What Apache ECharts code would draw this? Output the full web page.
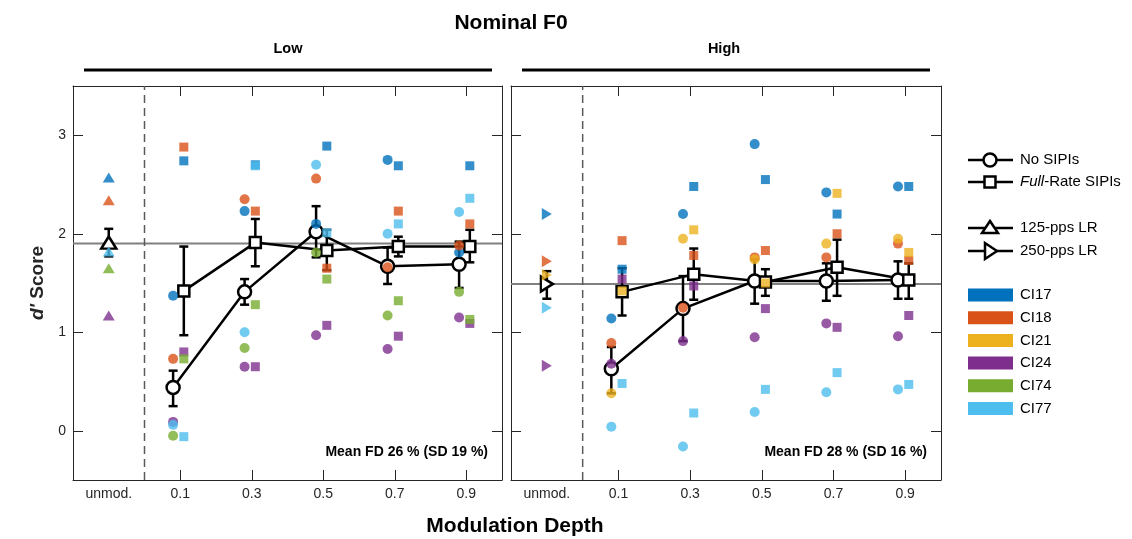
<!DOCTYPE html>
<html><head><meta charset="utf-8">
<script src="https://cdn.jsdelivr.net/npm/echarts@6/dist/echarts.min.js"></script>
<style>html,body{margin:0;padding:0;background:#fff}#c{width:1132px;height:539px}</style>
</head><body><div id="c"></div><script>
// ---------- data ----------
const depths = [0.1, 0.3, 0.5, 0.7, 0.9];
const unmodX = -0.1;
const xLabelValues = [-0.1, 0.1, 0.3, 0.5, 0.7, 0.9];
const xTickValues = [0.1, 0.3, 0.5, 0.7, 0.9];
const yTickValues = [0, 1, 2, 3];
const subjects = ['CI17', 'CI18', 'CI21', 'CI24', 'CI74', 'CI77'];
const subjectColors = ['#0072BD', '#D95319', '#EDB120', '#7E2F8E', '#77AC30', '#4DBEEE'];
const panelTitles = ['Low', 'High'];
const meanFD = ['Mean FD 26 % (SD 19 %)', 'Mean FD 28 % (SD 16 %)'];

// Low F0 — No SIPIs (individual)
const low_no_CI17 = [1.37, 2.23, 2.10, 2.75, 1.81];
const low_no_CI18 = [0.73, 2.35, 2.56, 1.66, 1.88];
const low_no_CI24 = [0.09, 0.65, 0.97, 0.83, 1.15];
const low_no_CI74 = [-0.05, 0.84, 1.81, 1.17, 1.41];
const low_no_CI77 = [0.06, 1.00, 2.70, 2.00, 2.22];
// Low F0 — Full-Rate SIPIs (individual)
const low_full_CI17 = [2.74, 2.70, 2.89, 2.69, 2.69];
const low_full_CI18 = [2.88, 2.23, 1.65, 2.23, 2.10];
const low_full_CI24 = [0.80, 0.65, 1.07, 0.96, 1.09];
const low_full_CI74 = [0.73, 1.28, 1.54, 1.32, 1.13];
const low_full_CI77 = [-0.06, 2.69, 2.01, 2.10, 2.36];
// Low F0 — 125-pps LR (CI17, CI18, CI21, CI24, CI74, CI77)
const low_LR = [2.57, 2.34, null, 1.17, 1.65, 1.82];
// Low F0 — group means and error bars
const low_no_mean = [0.44, 1.41, 2.02, 1.67, 1.69];
const low_no_hi = [0.61, 1.54, 2.28, 1.86, 1.92];
const low_no_lo = [0.25, 1.28, 1.76, 1.49, 1.45];
const low_full_mean = [1.42, 1.91, 1.83, 1.87, 1.87];
const low_full_hi = [1.87, 2.15, 2.04, 1.97, 2.04];
const low_full_lo = [0.97, 1.67, 1.63, 1.77, 1.71];
const low_LR_mean = [1.91, 2.05, 1.77]; // mean, hi, lo
const low_ref = 1.90;

// High F0 — No SIPIs (individual)
const high_no_CI17 = [1.14, 2.20, 2.91, 2.42, 2.48];
const high_no_CI18 = [0.89, 1.25, 1.76, 1.76, 1.90];
const high_no_CI21 = [0.38, 1.95, 1.74, 1.90, 1.95];
const high_no_CI24 = [0.68, 0.91, 0.95, 1.09, 0.96];
const high_no_CI77 = [0.04, -0.16, 0.19, 0.39, 0.42];
// High F0 — Full-Rate SIPIs (individual)
const high_full_CI17 = [1.64, 2.48, 2.55, 2.20, 2.48];
const high_full_CI18 = [1.93, 1.78, 1.83, 2.00, 1.73];
const high_full_CI21 = [1.42, 2.04, 1.50, 2.41, 1.81];
const high_full_CI24 = [1.54, 1.47, 1.24, 1.05, 1.17];
const high_full_CI77 = [0.48, 0.18, 0.42, 0.59, 0.47];
// High F0 — 250-pps LR
const high_LR = [2.20, 1.72, 1.58, 0.66, null, 1.25];
// High F0 — group means and error bars
const high_no_mean = [0.63, 1.24, 1.52, 1.52, 1.53];
const high_no_hi = [0.85, 1.57, 1.74, 1.70, 1.72];
const high_no_lo = [0.38, 0.91, 1.29, 1.32, 1.34];
const high_full_mean = [1.41, 1.59, 1.51, 1.66, 1.53];
const high_full_hi = [1.65, 1.85, 1.64, 1.94, 1.70];
const high_full_lo = [1.17, 1.33, 1.37, 1.37, 1.34];
const high_LR_mean = [1.49, 1.62, 1.34];
const high_ref = 1.49;

// ---------- assemble ----------
const FONT = '"Liberation Sans", Arial, Helvetica, sans-serif';
const NO_OFF = -0.02, FULL_OFF = 0.01;
const panels = [
  { no: { CI17: low_no_CI17, CI18: low_no_CI18, CI24: low_no_CI24, CI74: low_no_CI74, CI77: low_no_CI77 },
    full: { CI17: low_full_CI17, CI18: low_full_CI18, CI24: low_full_CI24, CI74: low_full_CI74, CI77: low_full_CI77 },
    lr: low_LR, noMean: low_no_mean, noHi: low_no_hi, noLo: low_no_lo,
    fullMean: low_full_mean, fullHi: low_full_hi, fullLo: low_full_lo, lrMean: low_LR_mean, ref: low_ref, rot: 0 },
  { no: { CI17: high_no_CI17, CI18: high_no_CI18, CI21: high_no_CI21, CI24: high_no_CI24, CI77: high_no_CI77 },
    full: { CI17: high_full_CI17, CI18: high_full_CI18, CI21: high_full_CI21, CI24: high_full_CI24, CI77: high_full_CI77 },
    lr: high_LR, noMean: high_no_mean, noHi: high_no_hi, noLo: high_no_lo,
    fullMean: high_full_mean, fullHi: high_full_hi, fullLo: high_full_lo, lrMean: high_LR_mean, ref: high_ref, rot: -90 }
];

const grids = [
  { left: 73, top: 86, width: 429, height: 394 },
  { left: 511, top: 86, width: 430, height: 394 }
];

const axisColor = '#262626';
const xAxes = [], yAxes = [];
[0, 1].forEach(g => {
  ['bottom', 'top'].forEach(pos => {
    xAxes.push({
      type: 'value', gridIndex: g, position: pos, min: -0.2, max: 1.0,
      axisLine: { show: true, onZero: false, lineStyle: { color: axisColor, width: 1 } },
      axisTick: { show: true, inside: true, length: 10, customValues: xTickValues, lineStyle: { color: axisColor, width: 1 } },
      axisLabel: { show: pos === 'bottom', customValues: xLabelValues, margin: 7, fontSize: 14, color: axisColor, fontFamily: FONT,
        formatter: v => (v < 0 ? 'unmod.' : Number(v).toFixed(1)) },
      splitLine: { show: false }
    });
  });
  ['left', 'right'].forEach(pos => {
    yAxes.push({
      type: 'value', gridIndex: g, position: pos, min: -0.5, max: 3.5,
      axisLine: { show: true, onZero: false, lineStyle: { color: axisColor, width: 1 } },
      axisTick: { show: true, inside: true, length: 10, customValues: yTickValues, lineStyle: { color: axisColor, width: 1 } },
      axisLabel: { show: g === 0 && pos === 'left', customValues: yTickValues, margin: 7, fontSize: 14, color: axisColor, fontFamily: FONT },
      splitLine: { show: false }
    });
  });
});

function errorBarRender(params, api) {
  const x = api.value(0), lo = api.value(1), hi = api.value(2);
  const p1 = api.coord([x, hi]), p2 = api.coord([x, lo]);
  const w = 4.5;
  const st = { stroke: '#000', lineWidth: 2.5 };
  return { type: 'group', children: [
    { type: 'line', shape: { x1: p1[0], y1: p1[1], x2: p2[0], y2: p2[1] }, style: st },
    { type: 'line', shape: { x1: p1[0] - w, y1: p1[1], x2: p1[0] + w, y2: p1[1] }, style: st },
    { type: 'line', shape: { x1: p2[0] - w, y1: p2[1], x2: p2[0] + w, y2: p2[1] }, style: st }
  ] };
}

const series = [];
panels.forEach((p, g) => {
  const xi = g * 2, yi = g * 2;
  // reference line
  series.push({ type: 'line', xAxisIndex: xi, yAxisIndex: yi, silent: true, z: 1, showSymbol: false, symbol: 'none',
    data: [[-0.2, p.ref], [1.0, p.ref]], lineStyle: { color: '#808080', width: 2 } });
  // dashed separator
  series.push({ type: 'line', xAxisIndex: xi, yAxisIndex: yi, silent: true, z: 1, symbol: 'none',
    data: [[0, -0.5], [0, 3.5]], lineStyle: { color: '#5a5a5a', width: 1.5, type: [8, 5] } });
  // error bars
  const eb = [];
  depths.forEach((d, i) => eb.push([d + NO_OFF, p.noLo[i], p.noHi[i]]));
  depths.forEach((d, i) => eb.push([d + FULL_OFF, p.fullLo[i], p.fullHi[i]]));
  eb.push([unmodX, p.lrMean[2], p.lrMean[1]]);
  series.push({ type: 'custom', xAxisIndex: xi, yAxisIndex: yi, z: 3, silent: true, renderItem: errorBarRender,
    encode: { x: 0, y: [1, 2] }, data: eb });
  // mean lines
  series.push({ type: 'line', xAxisIndex: xi, yAxisIndex: yi, z: 4, symbol: 'circle', symbolSize: 13,
    data: depths.map((d, i) => [d + NO_OFF, p.noMean[i]]),
    lineStyle: { color: '#000', width: 2.5 }, itemStyle: { color: '#fff', borderColor: '#000', borderWidth: 2.5 } });
  series.push({ type: 'line', xAxisIndex: xi, yAxisIndex: yi, z: 4, symbol: 'rect', symbolSize: 11,
    data: depths.map((d, i) => [d + FULL_OFF, p.fullMean[i]]),
    lineStyle: { color: '#000', width: 2.5 }, itemStyle: { color: '#fff', borderColor: '#000', borderWidth: 2.5 } });
  series.push({ type: 'scatter', xAxisIndex: xi, yAxisIndex: yi, z: 4, symbol: 'triangle', symbolSize: [15, 12],
    symbolRotate: p.rot, data: [[unmodX, p.lrMean[0]]],
    itemStyle: { color: '#fff', borderColor: '#000', borderWidth: 2.5, opacity: 1 } });
  // individual subjects
  subjects.forEach((s, si) => {
    const data = [];
    if (p.no[s]) depths.forEach((d, i) => data.push({ value: [d + NO_OFF, p.no[s][i]], symbol: 'circle', symbolSize: 10 }));
    if (p.full[s]) depths.forEach((d, i) => data.push({ value: [d + FULL_OFF, p.full[s][i]], symbol: 'rect', symbolSize: 9 }));
    if (p.lr[si] != null) data.push({ value: [unmodX, p.lr[si]], symbol: 'triangle', symbolSize: [12, 10], symbolRotate: p.rot });
    if (!data.length) return;
    series.push({ type: 'scatter', name: s, xAxisIndex: xi, yAxisIndex: yi, z: 5, data,
      itemStyle: { color: subjectColors[si], opacity: 0.8 } });
  });
});

// ---------- graphic (titles, labels, legend) ----------
const graphic = [];
function txt(x, y, text, font, opts) {
  graphic.push(Object.assign({ type: 'text', x, y, silent: true,
    style: Object.assign({ text, font, fill: '#000', align: 'center', verticalAlign: 'middle',
      textAlign: 'center', textVerticalAlign: 'middle' }, (opts && opts.style) || {}) }, (opts && opts.el) || {}));
}
txt(511, 23, 'Nominal F0', 'bold 21px ' + FONT);
txt(288, 49, panelTitles[0], 'bold 14.5px ' + FONT);
txt(724, 49, panelTitles[1], 'bold 14.5px ' + FONT);
graphic.push({ type: 'line', silent: true, shape: { x1: 84, y1: 70, x2: 492, y2: 70 }, style: { stroke: '#000', lineWidth: 3 } });
graphic.push({ type: 'line', silent: true, shape: { x1: 522, y1: 70, x2: 930, y2: 70 }, style: { stroke: '#000', lineWidth: 3 } });
txt(488, 452, meanFD[0], 'bold 14px ' + FONT, { style: { align: 'right', textAlign: 'right' } });
txt(927, 452, meanFD[1], 'bold 14px ' + FONT, { style: { align: 'right', textAlign: 'right' } });
txt(515, 526, 'Modulation Depth', 'bold 21px ' + FONT);
graphic.push({ type: 'text', x: 38, y: 283, rotation: Math.PI / 2, silent: true,
  style: { text: "{i|d'} {b|Score}", align: 'center', verticalAlign: 'middle', textAlign: 'center', textVerticalAlign: 'middle',
    font: 'bold 19px ' + FONT, fill: '#262626',
    rich: { i: { fontStyle: 'italic', fontWeight: 'bold', fontSize: 19, fontFamily: FONT, fill: '#262626', color: '#262626' },
            b: { fontWeight: 'bold', fontSize: 19, fontFamily: FONT, fill: '#262626', color: '#262626' } } } });

// legend
const LX1 = 968, LX2 = 1013, LC = 990, TX = 1020;
const legRows = [160, 182, 228, 251];
legRows.forEach(y => graphic.push({ type: 'line', silent: true, shape: { x1: LX1, y1: y, x2: LX2, y2: y }, style: { stroke: '#000', lineWidth: 2.5 } }));
graphic.push({ type: 'circle', silent: true, shape: { cx: LC, cy: legRows[0], r: 6.5 }, style: { fill: '#fff', stroke: '#000', lineWidth: 2.5 } });
graphic.push({ type: 'rect', silent: true, shape: { x: LC - 5.5, y: legRows[1] - 5.5, width: 11, height: 11 }, style: { fill: '#fff', stroke: '#000', lineWidth: 2.5 } });
graphic.push({ type: 'polygon', silent: true, shape: { points: [[LC, legRows[2] - 7], [LC + 8, legRows[2] + 5], [LC - 8, legRows[2] + 5]] }, style: { fill: '#fff', stroke: '#000', lineWidth: 2.5 } });
graphic.push({ type: 'polygon', silent: true, shape: { points: [[LC + 7, legRows[3]], [LC - 5, legRows[3] - 8], [LC - 5, legRows[3] + 8]] }, style: { fill: '#fff', stroke: '#000', lineWidth: 2.5 } });
const legFont = '15px ' + FONT;
const leftAlign = { style: { align: 'left', textAlign: 'left', fill: '#000' } };
txt(TX, legRows[0], 'No SIPIs', legFont, leftAlign);
graphic.push({ type: 'text', x: TX, y: legRows[1], silent: true,
  style: { text: '{i|Full}{n|-Rate SIPIs}', align: 'left', textAlign: 'left', verticalAlign: 'middle', textVerticalAlign: 'middle', font: legFont, fill: '#000',
    rich: { i: { fontStyle: 'italic', fontSize: 15, fontFamily: FONT, fill: '#000', color: '#000' }, n: { fontSize: 15, fontFamily: FONT, fill: '#000', color: '#000' } } } });
txt(TX, legRows[2], '125-pps LR', legFont, leftAlign);
txt(TX, legRows[3], '250-pps LR', legFont, leftAlign);
subjects.forEach((s, i) => {
  const cy = 295 + i * 22.7;
  graphic.push({ type: 'rect', silent: true, shape: { x: LX1, y: cy - 6.5, width: 45, height: 13 }, style: { fill: subjectColors[i] } });
  txt(TX, cy, s, legFont, leftAlign);
});

const chart = echarts.init(document.getElementById('c'), null, { renderer: 'canvas' });
chart.setOption({
  animation: false,
  backgroundColor: '#fff',
  textStyle: { fontFamily: FONT },
  grid: grids,
  xAxis: xAxes,
  yAxis: yAxes,
  series,
  graphic
});
</script></body></html>
